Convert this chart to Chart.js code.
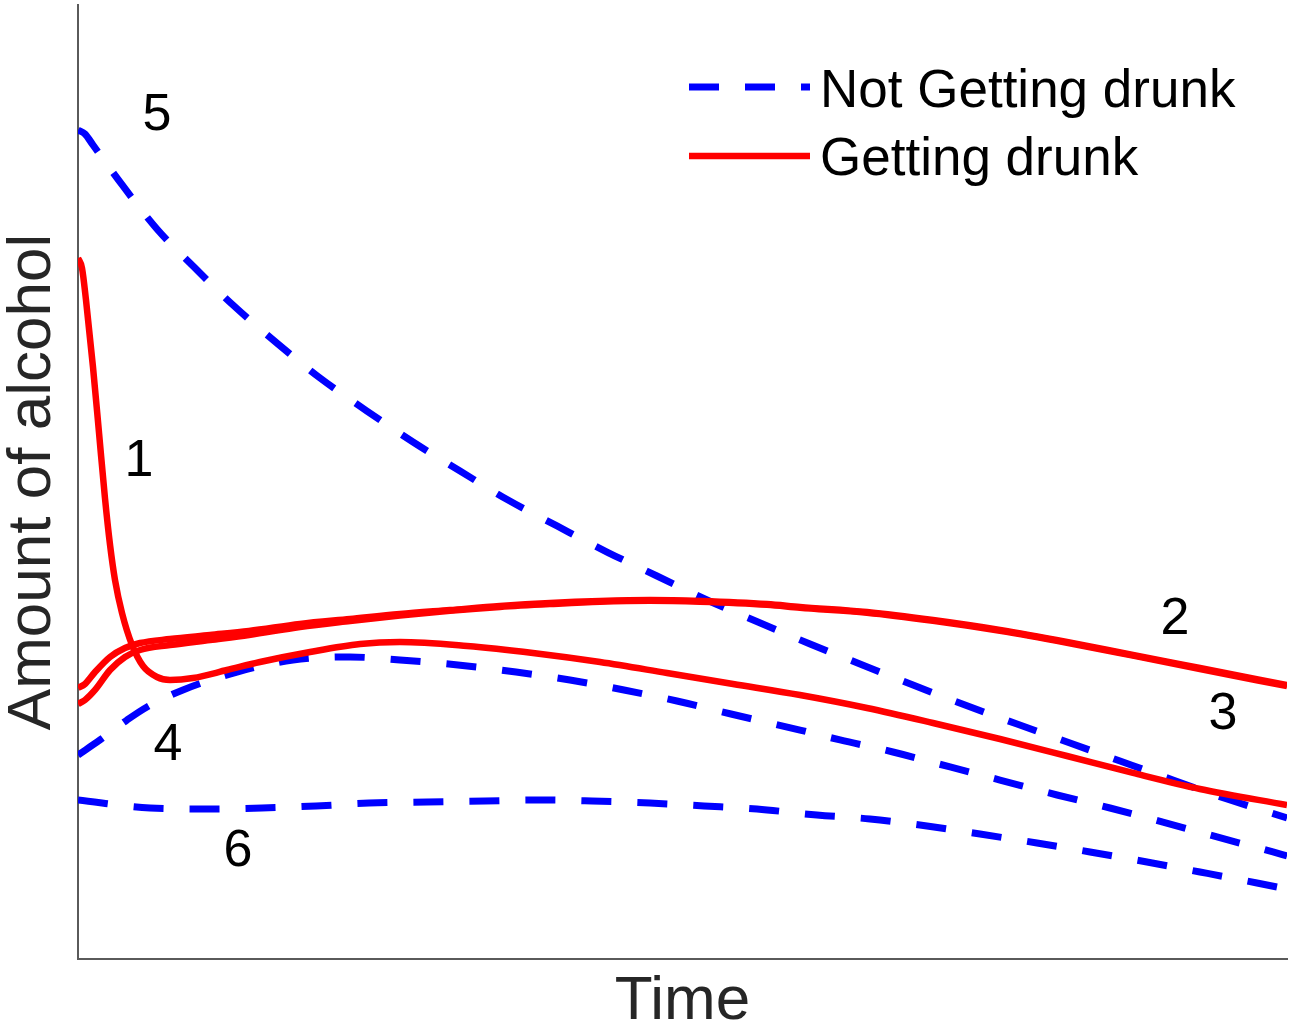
<!DOCTYPE html>
<html><head><meta charset="utf-8">
<script src="https://cdn.jsdelivr.net/npm/chart.js@4.4.1/dist/chart.umd.min.js"></script>
<style>html,body{margin:0;padding:0;background:#fff}#wrap{width:1291px;height:1033px;position:relative}</style>
</head><body><div id="wrap"><canvas id="c"></canvas></div>
<script>
const xTitle = 'Time';
const yTitle = 'Amount of alcohol';
const legendLabels = ['Not Getting drunk', 'Getting drunk'];

// Red (Getting drunk) curve 1
const c1x = [0,0.33,0.66,1.24,1.74,2.23,2.65,3.06,3.64,4.47,5.38,6.53,7.61,9.51,12.32,15.05,19.19,23.33,26.63,32.18,37.63,43.18,48.72,54.18,59.72,65.26,70.72,76.26,81.80,87.26,92.80,100];
const c1y = [73.48,72.43,69.08,62.05,55.14,48.32,43.40,39.73,36.27,32.91,30.71,29.56,29.25,29.45,30.29,31.13,32.18,33.02,33.23,32.81,32.08,31.13,29.98,28.83,27.67,26.31,24.74,23.06,21.28,19.50,17.82,16.14];
// Red curve 2
const c2x = [0,0.58,1.41,2.65,3.89,5.13,7.61,10.92,14.14,18.36,22.50,26.63,30.77,34.90,39.04,43.18,47.31,51.45,56.99,59.72,65.26,70.72,76.26,81.80,87.26,92.80,100];
const c2y = [28.41,28.83,30.08,31.66,32.60,33.12,33.54,33.96,34.38,35.12,35.64,36.16,36.58,37.00,37.32,37.53,37.63,37.53,37.21,36.90,36.37,35.53,34.49,33.23,31.87,30.50,28.72];
// Red curve 3
const c3x = [0,0.58,1.41,2.65,3.89,5.13,7.61,10.92,14.14,18.36,22.50,26.63,30.77,34.90,39.04,43.18,47.31,51.45,56.99,59.72,65.26,70.72,76.26,81.80,87.26,92.80,100];
const c3y = [26.73,27.15,28.20,30.29,31.66,32.39,32.91,33.44,33.96,34.80,35.43,36.01,36.50,36.90,37.20,37.45,37.55,37.45,37.13,36.82,36.30,35.45,34.40,33.15,31.80,30.40,28.60];
// Blue (Not getting drunk) curve 4
const c4x = [0,1.82,4.05,5.71,8.68,13.15,17.78,22.50,26.63,31.43,36.23,40.69,45.16,49.54,54.01,59.72,63.03,67.41,72.13,76.26,80.98,85.36,89.74,94.21,98.84,100];
const c4y = [21.38,22.96,25.05,26.42,28.20,30.08,31.34,31.66,31.34,30.82,30.08,29.25,28.20,27.04,25.68,24.00,22.96,21.70,20.13,18.76,17.19,15.83,14.36,12.79,11.22,10.80];
// Blue curve 5
const c5x = [0,0.58,1.24,3.72,6.53,9.68,12.82,16.54,20.02,23.90,27.71,31.60,35.57,39.62,43.76,47.89,52.03,56.24,60.55,64.68,69.07,73.37,77.67,82.05,86.19,90.57,95.04,100];
const c5y = [86.90,86.48,85.32,81.03,76.52,72.43,68.55,64.47,60.90,57.44,54.19,51.15,48.11,45.39,42.66,40.15,37.63,35.32,33.02,30.92,28.72,26.62,24.63,22.64,20.75,18.76,16.77,14.78];
// Blue curve 6
const c6x = [0,5.96,10.42,15.22,19.69,24.07,28.87,33.66,38.13,42.51,47.31,51.78,56.16,61.12,65.51,70.22,74.61,79.32,83.71,88.42,92.80,97.52,100];
const c6y = [16.67,15.83,15.72,15.83,16.04,16.35,16.46,16.56,16.67,16.56,16.35,16.04,15.72,15.09,14.68,13.94,13.10,12.16,11.22,10.17,9.12,7.97,7.34];

// Curve number labels
const curveLabels = ['1','2','3','4','5','6'];
const labelX = [5.05,90.74,94.71,7.44,6.53,13.23];
const labelY = [52.10,35.53,25.58,22.33,88.36,11.22];

const RED = '#ff0000', BLUE = '#0000ff';
const DASH = [30, 26];
const FONT = "'Liberation Sans', Arial, Helvetica, sans-serif";
const pts = (xs, ys) => xs.map((x, i) => ({x: x, y: ys[i]}));

function redSet(xs, ys) {
  return {label: legendLabels[1], data: pts(xs, ys), borderColor: RED, borderWidth: 6.5,
    pointRadius: 0, cubicInterpolationMode: 'monotone', fill: false, borderCapStyle: 'butt'};
}
function blueSet(xs, ys) {
  return {label: legendLabels[0], data: pts(xs, ys), borderColor: BLUE, borderWidth: 7,
    borderDash: DASH, pointRadius: 0, cubicInterpolationMode: 'monotone', fill: false, borderCapStyle: 'butt'};
}

const annotate = {
  id: 'annotate',
  afterDatasetsDraw(chart) {
    const ctx = chart.ctx, xs = chart.scales.x, ys = chart.scales.y;
    ctx.save();
    ctx.fillStyle = '#000';
    ctx.font = '52px ' + FONT;
    ctx.textAlign = 'center';
    ctx.textBaseline = 'middle';
    curveLabels.forEach((t, i) => {
      ctx.fillText(t, xs.getPixelForValue(labelX[i]), ys.getPixelForValue(labelY[i]));
    });
    // legend
    ctx.font = '53px ' + FONT;
    const entries = [
      {label: legendLabels[0], color: BLUE, dash: DASH, width: 7, ly: 87, ty: 107},
      {label: legendLabels[1], color: RED, dash: [], width: 6.5, ly: 156, ty: 175}
    ];
    entries.forEach(e => {
      ctx.beginPath();
      ctx.setLineDash(e.dash);
      ctx.lineCap = 'butt';
      ctx.strokeStyle = e.color;
      ctx.lineWidth = e.width;
      ctx.moveTo(689, e.ly);
      ctx.lineTo(810, e.ly);
      ctx.stroke();
      ctx.setLineDash([]);
      ctx.textAlign = 'left';
      ctx.textBaseline = 'alphabetic';
      ctx.fillText(e.label, 820, e.ty);
    });
    ctx.restore();
  }
};

new Chart(document.getElementById('c'), {
  type: 'line',
  data: {
    datasets: [
      redSet(c1x, c1y), redSet(c2x, c2y), redSet(c3x, c3y),
      blueSet(c4x, c4y), blueSet(c5x, c5y), blueSet(c6x, c6y)
    ]
  },
  options: {
    responsive: true, maintainAspectRatio: false, animation: false,
    layout: {padding: {top: 5, right: 4, left: 0, bottom: 0}},
    plugins: {legend: {display: false}, tooltip: {enabled: false}},
    scales: {
      x: {type: 'linear', min: 0, max: 100,
        grid: {display: false, drawTicks: false}, ticks: {display: false},
        border: {display: true, color: '#5a5a5a', width: 2},
        title: {display: true, text: xTitle, color: '#262626',
          font: {family: FONT, size: 62, lineHeight: 1}, padding: {top: 12, bottom: 0}}},
      y: {type: 'linear', min: 0, max: 100,
        grid: {display: false, drawTicks: false}, ticks: {display: false},
        border: {display: true, color: '#5a5a5a', width: 2},
        title: {display: true, text: yTitle, color: '#262626',
          font: {family: FONT, size: 62, lineHeight: 1}, padding: {top: 2, bottom: 14}}}
    }
  },
  plugins: [annotate]
});
</script></body></html>
